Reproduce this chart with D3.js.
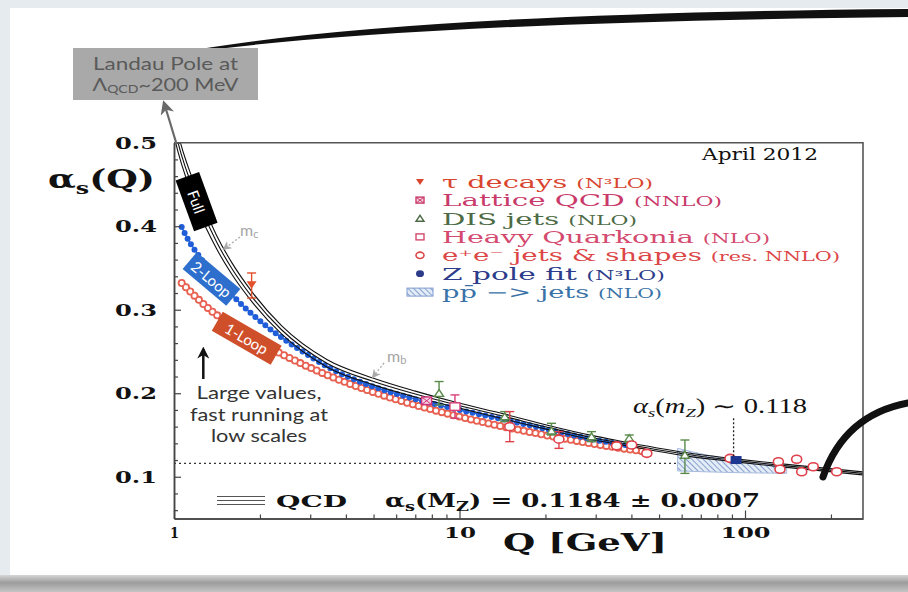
<!DOCTYPE html>
<html>
<head>
<meta charset="utf-8">
<script src="https://d3js.org/d3.v7.min.js"></script>
<style>
  html, body { margin: 0; padding: 0; background: #e6ebf0; overflow: hidden; }
  svg { display: block; }
</style>
</head>
<body>
<div id="chart"></div>
<script>
/* global d3 */

// ---- values ----
const tickQ = [1, 10, 100]
const tickQLabels = ['1', '10', '100']
const minorQ = [2, 3, 4, 5, 6, 7, 8, 9, 20, 30, 40, 50, 60, 70, 80, 90, 200]
const tickAlpha = [0.1, 0.2, 0.3, 0.4, 0.5]
const tickAlphaLabels = ['0.1', '0.2', '0.3', '0.4', '0.5']
const minorAlpha = [0.06, 0.08, 0.12, 0.14, 0.16, 0.18, 0.22, 0.24, 0.26, 0.28,
  0.32, 0.34, 0.36, 0.38, 0.42, 0.44, 0.46, 0.48]

// full QCD running (centre of the band) and half width of the band
const fullQ = [1.0, 1.033, 1.21, 1.41, 1.59, 1.87, 2.38, 3.43, 5, 7, 9.5, 14.4, 21, 29, 36, 62, 96, 140, 259]
const fullAlpha = [0.520, 0.500, 0.431, 0.381, 0.350, 0.316, 0.276, 0.236, 0.214, 0.199, 0.187,
  0.172, 0.158, 0.147, 0.141, 0.127, 0.119, 0.113, 0.104]
const fullHalfWidth = [0.012, 0.011, 0.010, 0.008, 0.007, 0.006, 0.005, 0.0045, 0.004, 0.0035,
  0.003, 0.003, 0.0025, 0.0025, 0.0022, 0.002, 0.0018, 0.0018, 0.0018]

const twoLoopQ = [1.064, 1.108, 1.25, 1.658, 2.112, 2.76, 3.61, 4.99, 7, 10, 15, 22, 30, 40]
const twoLoopAlpha = [0.399, 0.387, 0.360, 0.312, 0.280, 0.252, 0.228, 0.208, 0.193, 0.180, 0.167, 0.154, 0.144, 0.137]

const oneLoopQ = [1.064, 1.337, 1.8, 2.48, 3.43, 5.13, 9.46, 18.6, 35.5, 45]
const oneLoopAlpha = [0.332, 0.300, 0.270, 0.244, 0.222, 0.200, 0.174, 0.152, 0.135, 0.130]

// measurements
const tauQ = [1.87], tauAlpha = [0.330], tauLo = [0.314], tauHi = [0.344]
const latticeQ = [7.67], latticeAlpha = [0.191]
const disQ = [8.48, 14.4, 21.0, 29.0, 39.3, 61.6]
const disAlpha = [0.200, 0.172, 0.155, 0.148, 0.146, 0.126]
const disLo = [0.186, 0.166, 0.150, 0.142, 0.141, 0.104]
const disHi = [0.214, 0.178, 0.164, 0.154, 0.150, 0.144]
const hqQ = [9.64], hqAlpha = [0.184], hqLo = [0.170], hqHi = [0.198]
const eeQ = [15.0, 22.3, 35.5, 40.1, 45.3, 88.6, 130.9, 132.6, 151.7, 158, 173.4, 209.5]
const eeAlpha = [0.160, 0.145, 0.137, 0.138, 0.128, 0.122, 0.118, 0.109, 0.121, 0.106, 0.112, 0.106]
const eeLo = [0.142, 0.134, 0.133, 0.135, 0.125, 0.119, 0.115, 0.106, 0.118, 0.103, 0.109, 0.103]
const eeHi = [0.178, 0.154, 0.141, 0.141, 0.131, 0.125, 0.121, 0.112, 0.124, 0.109, 0.115, 0.109]
const zQ = [91.2], zAlpha = [0.120]
const ppQ = [58, 91, 140], ppHi = [0.134, 0.120, 0.113], ppLo = [0.107, 0.105, 0.104]

const mzRefAlpha = 0.116, mzRefQ = 58
const mzMarkQ = 91.2, mzMarkTop = 0.170, mzMarkBottom = 0.122

const legendNames = ['τ decays', 'Lattice QCD', 'DIS jets', 'Heavy Quarkonia', 'e⁺e⁻ jets & shapes', 'Z pole fit', 'pp̄ −> jets']
const legendOrders = ['(N³LO)', '(NNLO)', '(NLO)', '(NLO)', '(res. NNLO)', '(N³LO)', '(NLO)']
const legendColors = ['#d9452f', '#c93a6a', '#4d6b45', '#d44a6e', '#dc4646', '#2c3c8a', '#3a72a8']
const legendKinds = ['tau', 'lattice', 'dis', 'hq', 'ee', 'z', 'pp']
const legendWidths = [211, 280, 195, 328, 398, 223, 220]

// ---- canvas ----
const width = 908, height = 592
const serif = 'DejaVu Serif'
const sans = 'Lato'

const x = d3.scaleLog().domain([1, 259]).range([174, 863])
const y = d3.scaleLinear().domain([0.05, 0.5]).range([518.5, 142.7])

const svg = d3.select('#chart').append('svg')
  .attr('width', width)
  .attr('height', height)

const defs = svg.append('defs')

const grad = defs.append('linearGradient').attr('id', 'foot').attr('x1', 0).attr('x2', 0).attr('y1', 0).attr('y2', 1)
grad.append('stop').attr('offset', '0%').attr('stop-color', '#d6d6d6')
grad.append('stop').attr('offset', '45%').attr('stop-color', '#9c9c9c')
grad.append('stop').attr('offset', '100%').attr('stop-color', '#c4c4c4')

const hatch = defs.append('pattern').attr('id', 'hatch')
  .attr('patternUnits', 'userSpaceOnUse').attr('width', 4).attr('height', 4)
  .attr('patternTransform', 'rotate(-45)')
hatch.append('rect').attr('width', 4).attr('height', 4).attr('fill', '#e4ecf7')
hatch.append('line').attr('x1', 0).attr('y1', 0).attr('x2', 0).attr('y2', 4)
  .attr('stroke', '#5577b5').attr('stroke-width', 1.3)

const marker = (id, color, size) => {
  defs.append('marker').attr('id', id)
    .attr('viewBox', '0 0 10 10').attr('refX', 8).attr('refY', 5)
    .attr('markerWidth', size).attr('markerHeight', size)
    .attr('markerUnits', 'userSpaceOnUse')
    .attr('orient', 'auto')
    .append('path').attr('d', 'M0,0L10,5L0,10L3,5Z').attr('fill', color)
}
marker('arrGray', '#6a6a6a', 14)
marker('arrLight', '#a9a9a9', 9)
marker('arrBlack', '#111', 12)

defs.append('clipPath').attr('id', 'plotClip')
  .append('rect').attr('x', x(1)).attr('y', y(0.5)).attr('width', x(259) - x(1)).attr('height', y(0.05) - y(0.5))

// slide background
svg.append('rect').attr('width', width).attr('height', height).attr('fill', '#e6ebf0')
svg.append('rect').attr('x', 10).attr('y', 8).attr('width', 898).attr('height', 568).attr('fill', '#fff')
svg.append('rect').attr('x', 0).attr('y', 575).attr('width', width).attr('height', 17).attr('fill', 'url(#foot)')

// text helper with a fixed width
const text = (g, str, x0, yb, w, size, opts = {}) => {
  const t = g.append('text')
    .attr('x', x0).attr('y', yb)
    .attr('font-family', opts.font || serif)
    .attr('font-size', size)
    .attr('font-weight', opts.weight || 'normal')
    .attr('font-style', opts.style || 'normal')
    .attr('fill', opts.color || '#111')
    .attr('text-anchor', opts.anchor || 'start')
  if (w) t.attr('textLength', w).attr('lengthAdjust', 'spacingAndGlyphs')
  if (str !== null) t.text(str)
  return t
}

// ---- plot ----
const plot = svg.append('g').attr('clip-path', 'url(#plotClip)')
const line = d3.line().x(d => x(d[0])).y(d => y(d[1])).curve(d3.curveMonotoneX)

// pp -> jets band
const area = d3.area().x(d => x(d[0])).y0(d => y(d[1])).y1(d => y(d[2])).curve(d3.curveMonotoneX)
plot.append('path')
  .attr('d', area(ppQ.map((q, i) => [q, ppLo[i], ppHi[i]])))
  .attr('fill', 'url(#hatch)')
  .attr('stroke', '#a9bde0').attr('stroke-width', 1)

// alpha_s(MZ) reference line
plot.append('line')
  .attr('x1', x(1)).attr('x2', x(mzRefQ))
  .attr('y1', y(mzRefAlpha)).attr('y2', y(mzRefAlpha))
  .attr('stroke', '#333').attr('stroke-width', 1.2).attr('stroke-dasharray', '2,3')

// 1-loop: chain of open red circles
const oneLoopPath = line(oneLoopQ.map((q, i) => [q, oneLoopAlpha[i]]))
plot.append('path').attr('d', oneLoopPath).attr('fill', 'none')
  .attr('stroke', '#e8604f').attr('stroke-width', 8)
  .attr('stroke-linecap', 'round').attr('stroke-dasharray', '0 6')
plot.append('path').attr('d', oneLoopPath).attr('fill', 'none')
  .attr('stroke', '#fff').attr('stroke-width', 4.4)
  .attr('stroke-linecap', 'round').attr('stroke-dasharray', '0 6')

// 2-loop: chain of blue dots
const twoLoopPath = line(twoLoopQ.map((q, i) => [q, twoLoopAlpha[i]]))
plot.append('path').attr('d', twoLoopPath).attr('fill', 'none')
  .attr('stroke', '#1f5ed8').attr('stroke-width', 1.3)
plot.append('path').attr('d', twoLoopPath).attr('fill', 'none')
  .attr('stroke', '#1f5ed8').attr('stroke-width', 6)
  .attr('stroke-linecap', 'round').attr('stroke-dasharray', '0 6.5')

// full QCD band: three lines
const bandLines = [
  fullQ.map((q, i) => [q, fullAlpha[i] + fullHalfWidth[i]]),
  fullQ.map((q, i) => [q, fullAlpha[i]]),
  fullQ.map((q, i) => [q, fullAlpha[i] - fullHalfWidth[i]])
]
plot.selectAll('path.band')
  .data(bandLines)
  .enter()
  .append('path')
  .attr('class', 'band')
  .attr('d', line)
  .attr('fill', 'none')
  .attr('stroke', '#111')
  .attr('stroke-width', 1.1)

// labels on the curves
const tag = (label, cx, cy, len, wid, angle, fill, size) => {
  const g = svg.append('g').attr('transform', `translate(${cx},${cy}) rotate(${angle})`)
  g.append('rect').attr('x', -len / 2).attr('y', -wid / 2).attr('width', len).attr('height', wid).attr('fill', fill)
  g.append('text').text(label)
    .attr('text-anchor', 'middle').attr('dominant-baseline', 'central')
    .attr('font-family', sans).attr('font-size', size).attr('fill', '#fff')
}
tag('Full', 196.6, 201.7, 54, 25, 70, '#000', 15)
tag('2-Loop', 211.5, 279, 57, 22, 40, '#2e6fce', 15)
tag('1-Loop', 246.7, 338.3, 68, 22, 30, '#cf4f2a', 15)

// ---- measurements ----
const errors = (q, lo, hi, color) => {
  q.forEach((v, i) => {
    const cx = x(v)
    plot.append('line').attr('x1', cx).attr('x2', cx).attr('y1', y(lo[i])).attr('y2', y(hi[i]))
      .attr('stroke', color).attr('stroke-width', 1.4)
    ;[lo[i], hi[i]].forEach(a => {
      plot.append('line').attr('x1', cx - 4.5).attr('x2', cx + 4.5).attr('y1', y(a)).attr('y2', y(a))
        .attr('stroke', color).attr('stroke-width', 1.4)
    })
  })
}

const symbol = (g, kind, cx, cy, c, s) => {
  if (kind === 'tau') {
    g.append('path').attr('d', `M${cx - s},${cy - s * 0.7}L${cx + s},${cy - s * 0.7}L${cx},${cy + s * 0.8}Z`).attr('fill', c)
  } else if (kind === 'lattice') {
    g.append('rect').attr('x', cx - s).attr('y', cy - s * 0.75).attr('width', 2 * s).attr('height', 1.5 * s)
      .attr('fill', '#f6d3e2').attr('stroke', c).attr('stroke-width', 1.4)
    g.append('path').attr('d', `M${cx - s},${cy - s * 0.75}L${cx + s},${cy + s * 0.75}M${cx + s},${cy - s * 0.75}L${cx - s},${cy + s * 0.75}`)
      .attr('stroke', c).attr('stroke-width', 1)
  } else if (kind === 'dis') {
    g.append('path').attr('d', `M${cx - s},${cy + s * 0.7}L${cx + s},${cy + s * 0.7}L${cx},${cy - s * 0.8}Z`)
      .attr('fill', '#fff').attr('stroke', c).attr('stroke-width', 1.4)
  } else if (kind === 'hq') {
    g.append('rect').attr('x', cx - s).attr('y', cy - s * 0.75).attr('width', 2 * s).attr('height', 1.5 * s)
      .attr('fill', '#fff').attr('stroke', c).attr('stroke-width', 1.4)
  } else if (kind === 'ee') {
    g.append('ellipse').attr('cx', cx).attr('cy', cy).attr('rx', s).attr('ry', s * 0.8)
      .attr('fill', '#fff').attr('stroke', c).attr('stroke-width', 1.6)
  } else if (kind === 'z') {
    g.append('ellipse').attr('cx', cx).attr('cy', cy).attr('rx', s).attr('ry', s * 0.85).attr('fill', c)
  } else if (kind === 'pp') {
    g.append('rect').attr('x', cx - 13).attr('y', cy - 4).attr('width', 26).attr('height', 8)
      .attr('fill', 'url(#hatch)').attr('stroke', '#7f9bd0').attr('stroke-width', 1)
  }
}

errors(tauQ, tauLo, tauHi, '#e2502c')
errors(disQ, disLo, disHi, '#5a8a4a')
errors(hqQ, hqLo, hqHi, '#d8407a')
errors(eeQ, eeLo, eeHi, '#e0404a')

latticeQ.forEach((q, i) => symbol(plot, 'lattice', x(q), y(latticeAlpha[i]), '#d0337a', 5))
hqQ.forEach((q, i) => symbol(plot, 'hq', x(q), y(hqAlpha[i]), '#d8407a', 5))
disQ.forEach((q, i) => symbol(plot, 'dis', x(q), y(disAlpha[i]), '#5a8a4a', 4.5))
eeQ.forEach((q, i) => symbol(plot, 'ee', x(q), y(eeAlpha[i]), '#e0404a', 5))
tauQ.forEach((q, i) => symbol(plot, 'tau', x(q), y(tauAlpha[i]), '#e2502c', 5))
zQ.forEach((q, i) => plot.append('rect')
  .attr('x', x(q) - 3).attr('y', y(zAlpha[i]) - 4).attr('width', 11).attr('height', 8).attr('fill', '#1d3790'))

// alpha_s(mZ) marker
svg.append('line')
  .attr('x1', x(mzMarkQ)).attr('x2', x(mzMarkQ))
  .attr('y1', y(mzMarkTop)).attr('y2', y(mzMarkBottom))
  .attr('stroke', '#222').attr('stroke-width', 1.3).attr('stroke-dasharray', '2,2')
const mzText = text(svg, null, 633, 413, 174, 20, { font: 'Liberation Serif' })
mzText.append('tspan').text('α').attr('font-style', 'italic')
mzText.append('tspan').text('s').attr('font-style', 'italic').attr('font-size', 13).attr('dy', 4)
mzText.append('tspan').text('(').attr('dy', -4)
mzText.append('tspan').text('m').attr('font-style', 'italic')
mzText.append('tspan').text('Z').attr('font-style', 'italic').attr('font-size', 13).attr('dy', 4)
mzText.append('tspan').text(') ∼ 0.118').attr('dy', -4)

// ---- axes ----
const axisStyle = g => {
  g.select('.domain').attr('stroke', '#444').attr('stroke-width', 1.5)
  g.selectAll('.tick line').attr('stroke', '#444').attr('stroke-width', 1.2)
}

svg.append('g').attr('transform', `translate(${x(1)},0)`)
  .call(d3.axisLeft(y).tickValues(minorAlpha).tickSize(-4).tickSizeOuter(0).tickFormat(''))
  .call(axisStyle)
const gy = svg.append('g').attr('transform', `translate(${x(1)},0)`)
  .call(d3.axisLeft(y).tickValues(tickAlpha).tickSize(-7).tickSizeOuter(0).tickPadding(17)
    .tickFormat((d, i) => tickAlphaLabels[i]))
  .call(axisStyle)
gy.selectAll('.tick text')
  .attr('dy', 5.5)
  .attr('font-family', serif).attr('font-size', 16).attr('font-weight', 'bold').attr('fill', '#111')
  .attr('textLength', 42).attr('lengthAdjust', 'spacingAndGlyphs')

svg.append('g').attr('transform', `translate(0,${y(0.05)})`)
  .call(d3.axisBottom(x).tickValues(minorQ).tickSize(-4).tickSizeOuter(0).tickFormat(''))
  .call(axisStyle)
const gx = svg.append('g').attr('transform', `translate(0,${y(0.05)})`)
  .call(d3.axisBottom(x).tickValues(tickQ).tickSize(-8).tickSizeOuter(0)
    .tickFormat((d, i) => tickQLabels[i]))
  .call(axisStyle)
gx.selectAll('.tick text')
  .attr('y', 19).attr('dy', 0)
  .attr('font-family', serif).attr('font-size', 14).attr('font-weight', 'bold').attr('fill', '#111')
  .attr('textLength', (d, i) => [9, 32, 50][i]).attr('lengthAdjust', 'spacingAndGlyphs')

// frame top and right
svg.append('path')
  .attr('d', `M${x(1)},${y(0.5)}H${x(259)}V${y(0.05)}`)
  .attr('fill', 'none').attr('stroke', '#555').attr('stroke-width', 1.6)

// axis titles
const yTitle = text(svg, null, 48, 188, 107, 26, { weight: 'bold' })
yTitle.append('tspan').text('α')
yTitle.append('tspan').text('s').attr('font-size', 17).attr('dy', 6)
yTitle.append('tspan').text('(Q)').attr('dy', -6)
text(svg, 'Q [GeV]', 503, 551, 164, 25, { weight: 'bold' })

text(svg, 'April 2012', 702, 160, 116, 16)

// ---- legend ----
const legend = svg.append('g')
legendNames.forEach((name, i) => {
  const cy = 181.7 + i * 18.4
  symbol(legend, legendKinds[i], 420, cy, legendColors[i], i === 6 ? 4 : 4)
  const t = text(legend, null, 442, cy + 6, legendWidths[i], 16, { color: legendColors[i] })
  t.append('tspan').text(name + ' ')
  t.append('tspan').text(legendOrders[i]).attr('font-size', 12)
})

// QCD line sample and formula
;[496.5, 500.5, 504.5].forEach(v => {
  svg.append('line').attr('x1', 217).attr('x2', 265).attr('y1', v).attr('y2', v)
    .attr('stroke', '#555').attr('stroke-width', 1)
})
text(svg, 'QCD', 276, 507, 71, 17, { weight: 'bold' })
const formula = text(svg, null, 385, 507, 375, 19, { weight: 'bold' })
formula.append('tspan').text('α')
formula.append('tspan').text('s').attr('font-size', 13).attr('dy', 4)
formula.append('tspan').text('(M').attr('dy', -4)
formula.append('tspan').text('Z').attr('font-size', 13).attr('dy', 4)
formula.append('tspan').text(') = 0.1184 ± 0.0007').attr('dy', -4)

// ---- slide annotations ----
svg.append('path')
  .attr('d', 'M200,49 Q420,13 908,9 L908,17 Q425,22 201,51 Z')
  .attr('fill', '#111')
svg.append('path')
  .attr('d', 'M823,477 Q844.5,415 908,403')
  .attr('fill', 'none').attr('stroke', '#111').attr('stroke-width', 7).attr('stroke-linecap', 'round')

svg.append('rect').attr('x', 73).attr('y', 48).attr('width', 185).attr('height', 52).attr('fill', '#a9a9a9')
text(svg, 'Landau Pole at', 165.5, 70, 145, 17, { font: sans, color: '#5a5a5a', anchor: 'middle' })
const lam = text(svg, null, 165.5, 91, 146, 17, { font: sans, color: '#5a5a5a', anchor: 'middle' })
lam.append('tspan').text('Λ')
lam.append('tspan').text('QCD').attr('font-size', 11).attr('dy', 2)
lam.append('tspan').text('~200 MeV').attr('dy', -2)

svg.append('path')
  .attr('d', `M${x(1.02)},${y(0.5) + 1} Q170,122 164,103`)
  .attr('fill', 'none').attr('stroke', '#6a6a6a').attr('stroke-width', 2.2)
  .attr('marker-end', 'url(#arrGray)')

// quark thresholds
svg.append('line').attr('x1', 240).attr('y1', 237).attr('x2', 224).attr('y2', 249)
  .attr('stroke', '#a9a9a9').attr('stroke-width', 1.3).attr('stroke-dasharray', '2,2').attr('marker-end', 'url(#arrLight)')
const mc = text(svg, null, 240, 236, null, 16, { font: sans, color: '#a5a5a5' })
mc.append('tspan').text('m')
mc.append('tspan').text('c').attr('font-size', 11).attr('dy', 2)
svg.append('line').attr('x1', 384).attr('y1', 363).attr('x2', 373).attr('y2', 377)
  .attr('stroke', '#a9a9a9').attr('stroke-width', 1.3).attr('stroke-dasharray', '2,2').attr('marker-end', 'url(#arrLight)')
const mb = text(svg, null, 387, 362, null, 16, { font: sans, color: '#a5a5a5' })
mb.append('tspan').text('m')
mb.append('tspan').text('b').attr('font-size', 11).attr('dy', 2)

// large values note
svg.append('line').attr('x1', 203.3).attr('y1', 379).attr('x2', 203.3).attr('y2', 349)
  .attr('stroke', '#111').attr('stroke-width', 2.5).attr('marker-end', 'url(#arrBlack)')
text(svg, 'Large values,', 259, 399, 125, 17, { font: sans, color: '#333', anchor: 'middle' })
text(svg, 'fast running at', 259, 421, 138, 17, { font: sans, color: '#333', anchor: 'middle' })
text(svg, 'low scales', 259, 442, 96, 17, { font: sans, color: '#333', anchor: 'middle' })
</script>
</body>
</html>
